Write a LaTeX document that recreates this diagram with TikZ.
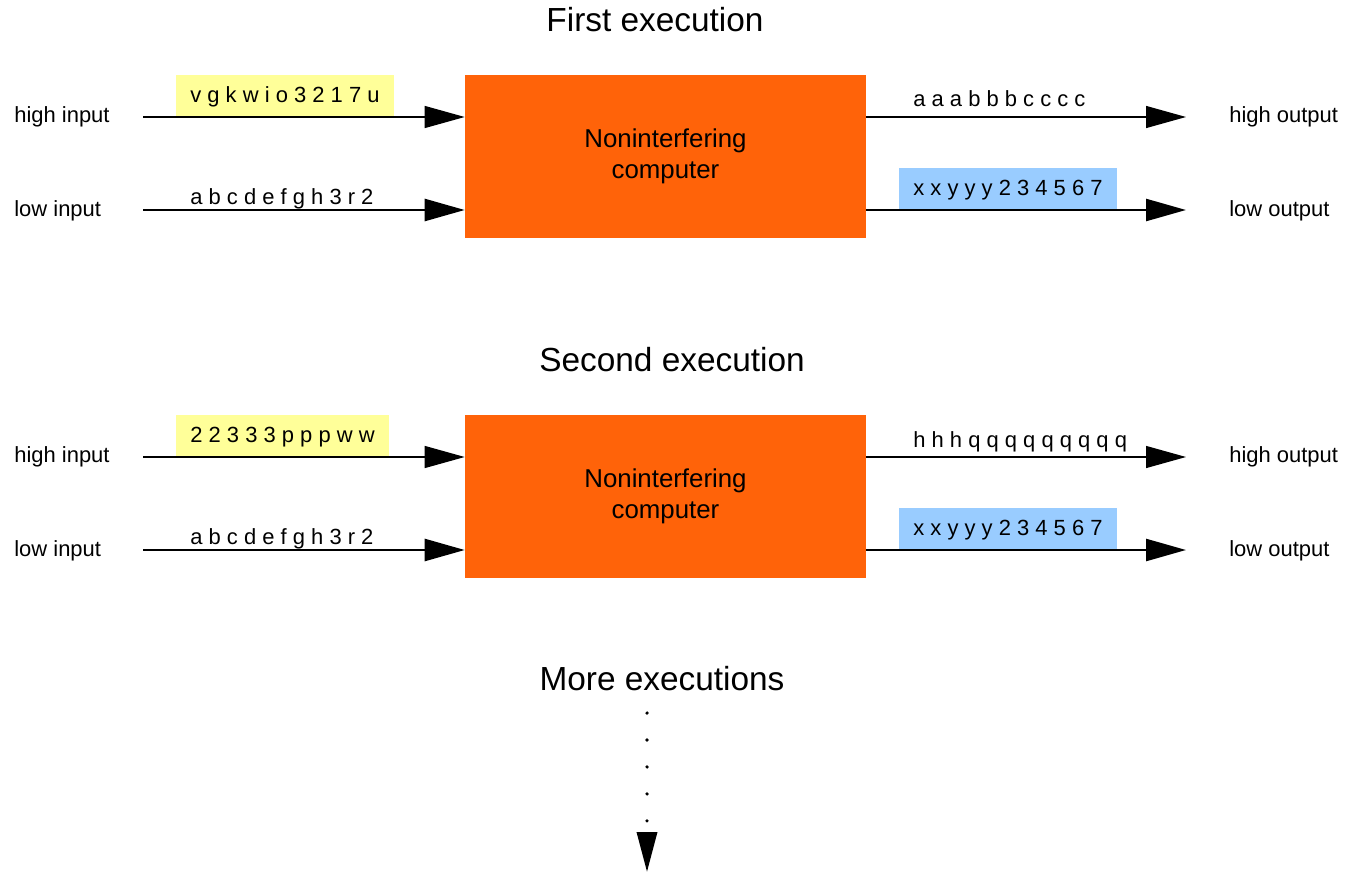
\documentclass[tikz,border=0pt]{standalone}
\usepackage{fontspec}
\setmainfont{Liberation Sans}
\usetikzlibrary{arrows.meta}

\definecolor{comporange}{RGB}{255,99,9}
\definecolor{hiyellow}{RGB}{255,255,153}
\definecolor{loblue}{RGB}{153,204,255}

\begin{document}
\begin{tikzpicture}[x=0.02cm,y=-0.02cm,
    comp node/.style={rectangle,fill=comporange,minimum width=8.02cm,minimum height=3.26cm,inner sep=0pt,align=center,font=\fontsize{14.7}{18}\selectfont},
    title node/.style={font=\fontsize{19}{23}\selectfont},
    side node/.style={anchor=west,inner sep=0pt,font=\fontsize{12.5}{15}\selectfont},
    data node/.style={anchor=base west,inner sep=0pt,font=\fontsize{12.5}{15}\selectfont},
    box node/.style={anchor=south west,inner xsep=0.28cm,inner ysep=0pt,text height=0.56cm,text depth=0.28cm,font=\fontsize{12.5}{15}\selectfont},
    high line/.style={line width=0.7pt,-{Triangle[length=0.8cm,width=0.44cm]}},
    low line/.style={line width=1.4pt,-{Triangle[length=0.8cm,width=0.44cm]}}]
  \useasboundingbox (0,0) rectangle (1346,875);

  \foreach \run/\tx/\title/\hin/\hout in {1/655/First execution/v g k w i o 3 2 1 7 u/a a a b b b c c c c,
      2/672/Second execution/2 2 3 3 3 p p p w w/h h h q q q q q q q q q}{
    \pgfmathsetmacro{\oy}{340*(\run-1)}
    \node[title node] (title\run) at (\tx,20+\oy) {\title};
    \node[comp node] (comp\run) at (665.5,156.5+\oy) {Noninterfering\\computer};

    \node[side node] (hinlbl\run) at (14,117+\oy) {high input};
    \node[side node] (linlbl\run) at (14,211+\oy) {low input};
    \node[side node] (houtlbl\run) at (1229,117+\oy) {high output};
    \node[side node] (loutlbl\run) at (1229,211+\oy) {low output};

    \node[box node,fill=hiyellow] (hinbox\run) at (176,117+\oy) {\hin};
    \node[data node] (lindata\run) at (190,204+\oy) {a b c d e f g h 3 r 2};
    \node[data node] (houtdata\run) at (913,107+\oy) {\hout};
    \node[box node,fill=loblue] (loutbox\run) at (899,210+\oy) {x x y y y 2 3 4 5 6 7};

    \coordinate (hin\run) at (143,117+\oy);
    \coordinate (lin\run) at (143,210+\oy);
    \coordinate (hout\run) at (1186,117+\oy);
    \coordinate (lout\run) at (1186,210+\oy);

    \draw[high line] (hin\run) -- (hin\run -| comp\run.west);
    \draw[low line] (lin\run) -- (lin\run -| comp\run.west);
    \draw[high line] (hout\run -| comp\run.east) -- (hout\run);
    \draw[low line] (lout\run -| comp\run.east) -- (lout\run);
  }

  \node[title node] (more) at (662,679) {More executions};
  \coordinate (moretop) at (647,713);
  \coordinate (moretip) at (647,872);
  \draw[line width=2pt,line cap=round,dash pattern=on 0pt off 0.54cm,-{Triangle[length=0.8cm,width=0.4cm]}] (moretop) -- (moretip);
\end{tikzpicture}
\end{document}
